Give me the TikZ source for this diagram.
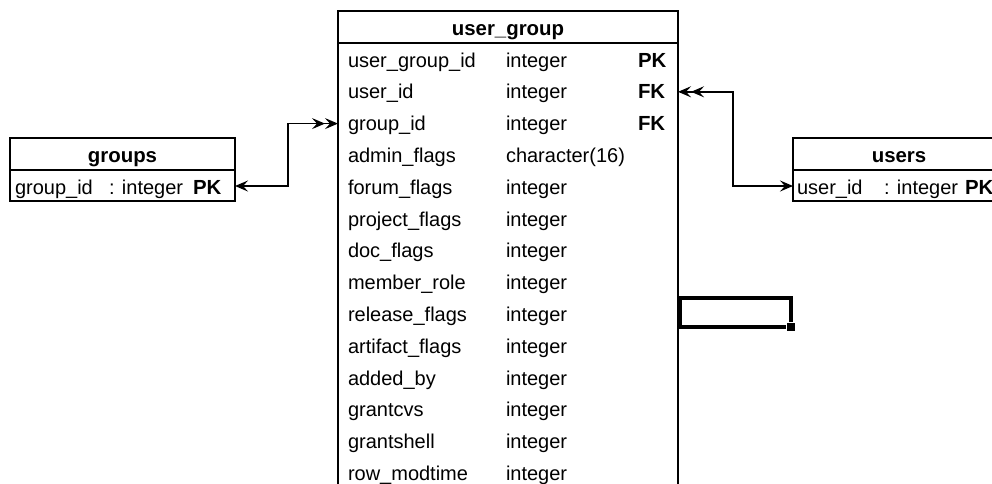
\documentclass[tikz,border=0pt]{standalone}
\usepackage{fontspec}
\setmainfont{Liberation Sans}
\usetikzlibrary{arrows.meta}
\begin{document}
\begin{tikzpicture}[x=1pt,y=-1pt,
  every node/.style={inner sep=0pt,outer sep=0pt},
  tbl/.style={draw=black,line width=1.5pt},
  rowbox/.style={minimum height=31.8pt},
  hdr/.style={font=\fontsize{20.4}{24}\selectfont\bfseries,anchor=base},
  cell/.style={font=\fontsize{20}{24}\selectfont,anchor=base west},
  key/.style={font=\fontsize{20.4}{24}\selectfont\bfseries,anchor=base west},
  fklink/.style={line width=1.6pt,
    arrows={Stealth[length=13pt,width=11pt,inset=5pt]-Stealth[length=13pt,width=11pt,inset=5pt]Stealth[length=13pt,width=11pt,inset=5pt]}},
  selbox/.style={draw=black,line width=4pt},
]
\useasboundingbox (0,0) rectangle (992,483);
\fill[white] (0,0) rectangle (992,483);
\clip (0,0) rectangle (992,483);

% ---- user_group table ----
\node[tbl,anchor=north west,minimum width=340pt,minimum height=490pt] (ug) at (338,11) {};
\draw[tbl] (ug.west |- 0,43) -- (ug.east |- 0,43);
\node[hdr] (ug-title) at (508,35) {user\_group};
\foreach \n/\t/\k [count=\i from 0] in {
  user\_group\_id/integer/PK,
  user\_id/integer/FK,
  group\_id/integer/FK,
  admin\_flags/character(16)/,
  forum\_flags/integer/,
  project\_flags/integer/,
  doc\_flags/integer/,
  member\_role/integer/,
  release\_flags/integer/,
  artifact\_flags/integer/,
  added\_by/integer/,
  grantcvs/integer/,
  grantshell/integer/,
  row\_modtime/integer/}{
  \node[rowbox,minimum width=340pt] (ug-\i) at (508,{60+31.8*\i}) {};
  \node[cell] (ug-\i-name) at (348,{67+31.8*\i}) {\n};
  \node[cell] (ug-\i-type) at (506,{67+31.8*\i}) {\t};
  \node[key]  (ug-\i-key)  at (638,{67+31.8*\i}) {\k};
}

% ---- groups table ----
\node[tbl,anchor=north west,minimum width=225pt,minimum height=63pt] (grp) at (10,138) {};
\draw[tbl] (grp.west |- 0,170) -- (grp.east |- 0,170);
\node[hdr] (grp-title) at (122.5,162) {groups};
\node[rowbox,minimum width=225pt] (grp-0) at (122.5,186) {};
\node[cell] (grp-0-name) at (15,194) {group\_id};
\node[cell] (grp-0-type) at (109,194) {: integer};
\node[key]  (grp-0-key)  at (193,194) {PK};

% ---- users table ----
\node[tbl,anchor=north west,minimum width=212pt,minimum height=63pt] (usr) at (793,138) {};
\draw[tbl] (usr.west |- 0,170) -- (usr.east |- 0,170);
\node[hdr] (usr-title) at (899,162) {users};
\node[rowbox,minimum width=212pt] (usr-0) at (899,186) {};
\node[cell] (usr-0-name) at (797,194) {user\_id};
\node[cell] (usr-0-type) at (884,194) {: integer};
\node[key]  (usr-0-key)  at (965,194) {PK};

% ---- foreign key links ----
\draw[fklink] (grp-0.east) -- ++(53,0) |- (ug-2.west);
\draw[fklink] (usr-0.west) -- ++(-60,0) |- (ug-1.east);

% ---- selected cell ----
\node[selbox,anchor=north west,minimum width=111pt,minimum height=29pt] (sel) at (680,298) {};
\node[fill=black,draw=white,line width=0.8pt,minimum size=9pt] (sel-handle) at (sel.south east) {};
\end{tikzpicture}
\end{document}
